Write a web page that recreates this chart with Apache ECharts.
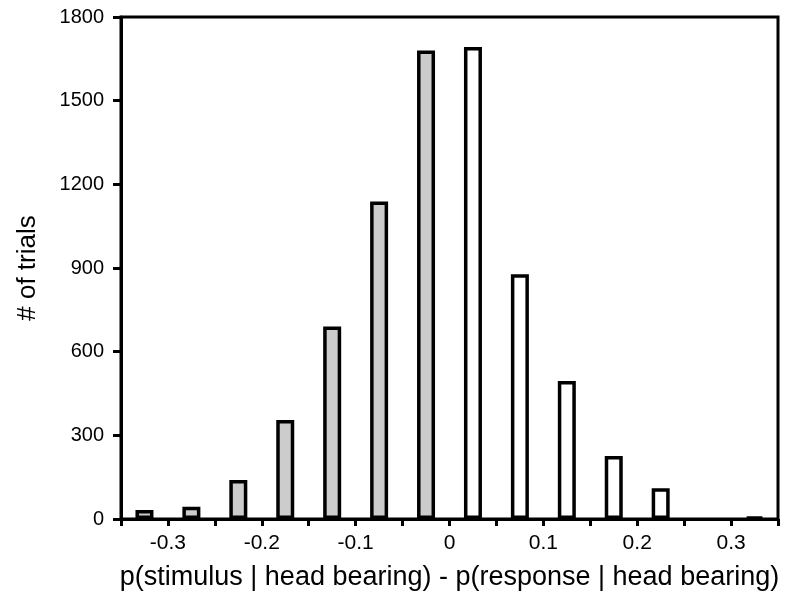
<!DOCTYPE html>
<html>
<head>
<meta charset="utf-8">
<script src="https://cdn.jsdelivr.net/npm/echarts@6/dist/echarts.min.js"></script>
<style>
  html, body { margin: 0; padding: 0; background: #ffffff; }
  #chart { width: 800px; height: 606px; }
</style>
</head>
<body>
<div id="chart"></div>
<script>
// bin centres and trial counts
var binCentres = [-0.325, -0.275, -0.225, -0.175, -0.125, -0.075, -0.025,
                  0.025, 0.075, 0.125, 0.175, 0.225, 0.275, 0.325];
var trialCounts = [32, 44, 140, 355, 690, 1138, 1680,
                   1692, 878, 495, 226, 110, 0, 8];
var yTicks = [0, 300, 600, 900, 1200, 1500, 1800];

var negFill = '#cccccc';
var posFill = '#ffffff';

var barData = [];
for (var i = 0; i < binCentres.length; i++) {
  // empty bins are not drawn at all in the original
  barData.push([binCentres[i], trialCounts[i] === 0 ? null : trialCounts[i]]);
}

var myChart = echarts.init(document.getElementById('chart'));
myChart.setOption({
  animation: false,
  backgroundColor: '#ffffff',
  grid: {
    left: 121,
    right: 22,
    top: 17,
    bottom: 87,
    show: true,
    borderColor: '#000',
    borderWidth: 3
  },
  xAxis: {
    type: 'value',
    min: -0.35,
    max: 0.35,
    interval: 0.05,
    name: 'p(stimulus | head bearing) - p(response | head bearing)',
    nameLocation: 'middle',
    nameGap: 45,
    nameTextStyle: { fontFamily: 'Liberation Sans', fontSize: 27, color: '#000' },
    axisLine: { show: true, onZero: false, lineStyle: { color: '#000', width: 3 } },
    axisTick: { show: true, length: 7, lineStyle: { color: '#000', width: 3 } },
    splitLine: { show: false },
    axisLabel: {
      fontFamily: 'Liberation Sans',
      fontSize: 21,
      color: '#000',
      margin: 14,
      showMinLabel: true,
      showMaxLabel: true,
      formatter: function (v) {
        var k = Math.round(v * 100);
        if (k % 10 !== 0) return '';
        if (k === 0) return '0';
        return (k / 100).toFixed(1);
      }
    }
  },
  yAxis: {
    type: 'value',
    min: yTicks[0],
    max: yTicks[yTicks.length - 1],
    interval: yTicks[1] - yTicks[0],
    name: '# of trials',
    nameLocation: 'middle',
    nameRotate: 90,
    nameGap: 80,
    nameTextStyle: { fontFamily: 'Liberation Sans', fontSize: 26, color: '#000' },
    axisLine: { show: true, onZero: false, lineStyle: { color: '#000', width: 3 } },
    axisTick: { show: true, length: 8, lineStyle: { color: '#000', width: 3 } },
    splitLine: { show: false },
    axisLabel: {
      fontFamily: 'Liberation Sans',
      fontSize: 20,
      color: '#000',
      margin: 17,
      formatter: function (v) { return String(v); }
    }
  },
  series: [
    {
      type: 'bar',
      barWidth: 18,
      data: barData,
      itemStyle: {
        color: function (p) { return p.value[0] < 0 ? negFill : posFill; },
        borderColor: '#000',
        borderWidth: 3.5
      }
    }
  ]
});
</script>
</body>
</html>
